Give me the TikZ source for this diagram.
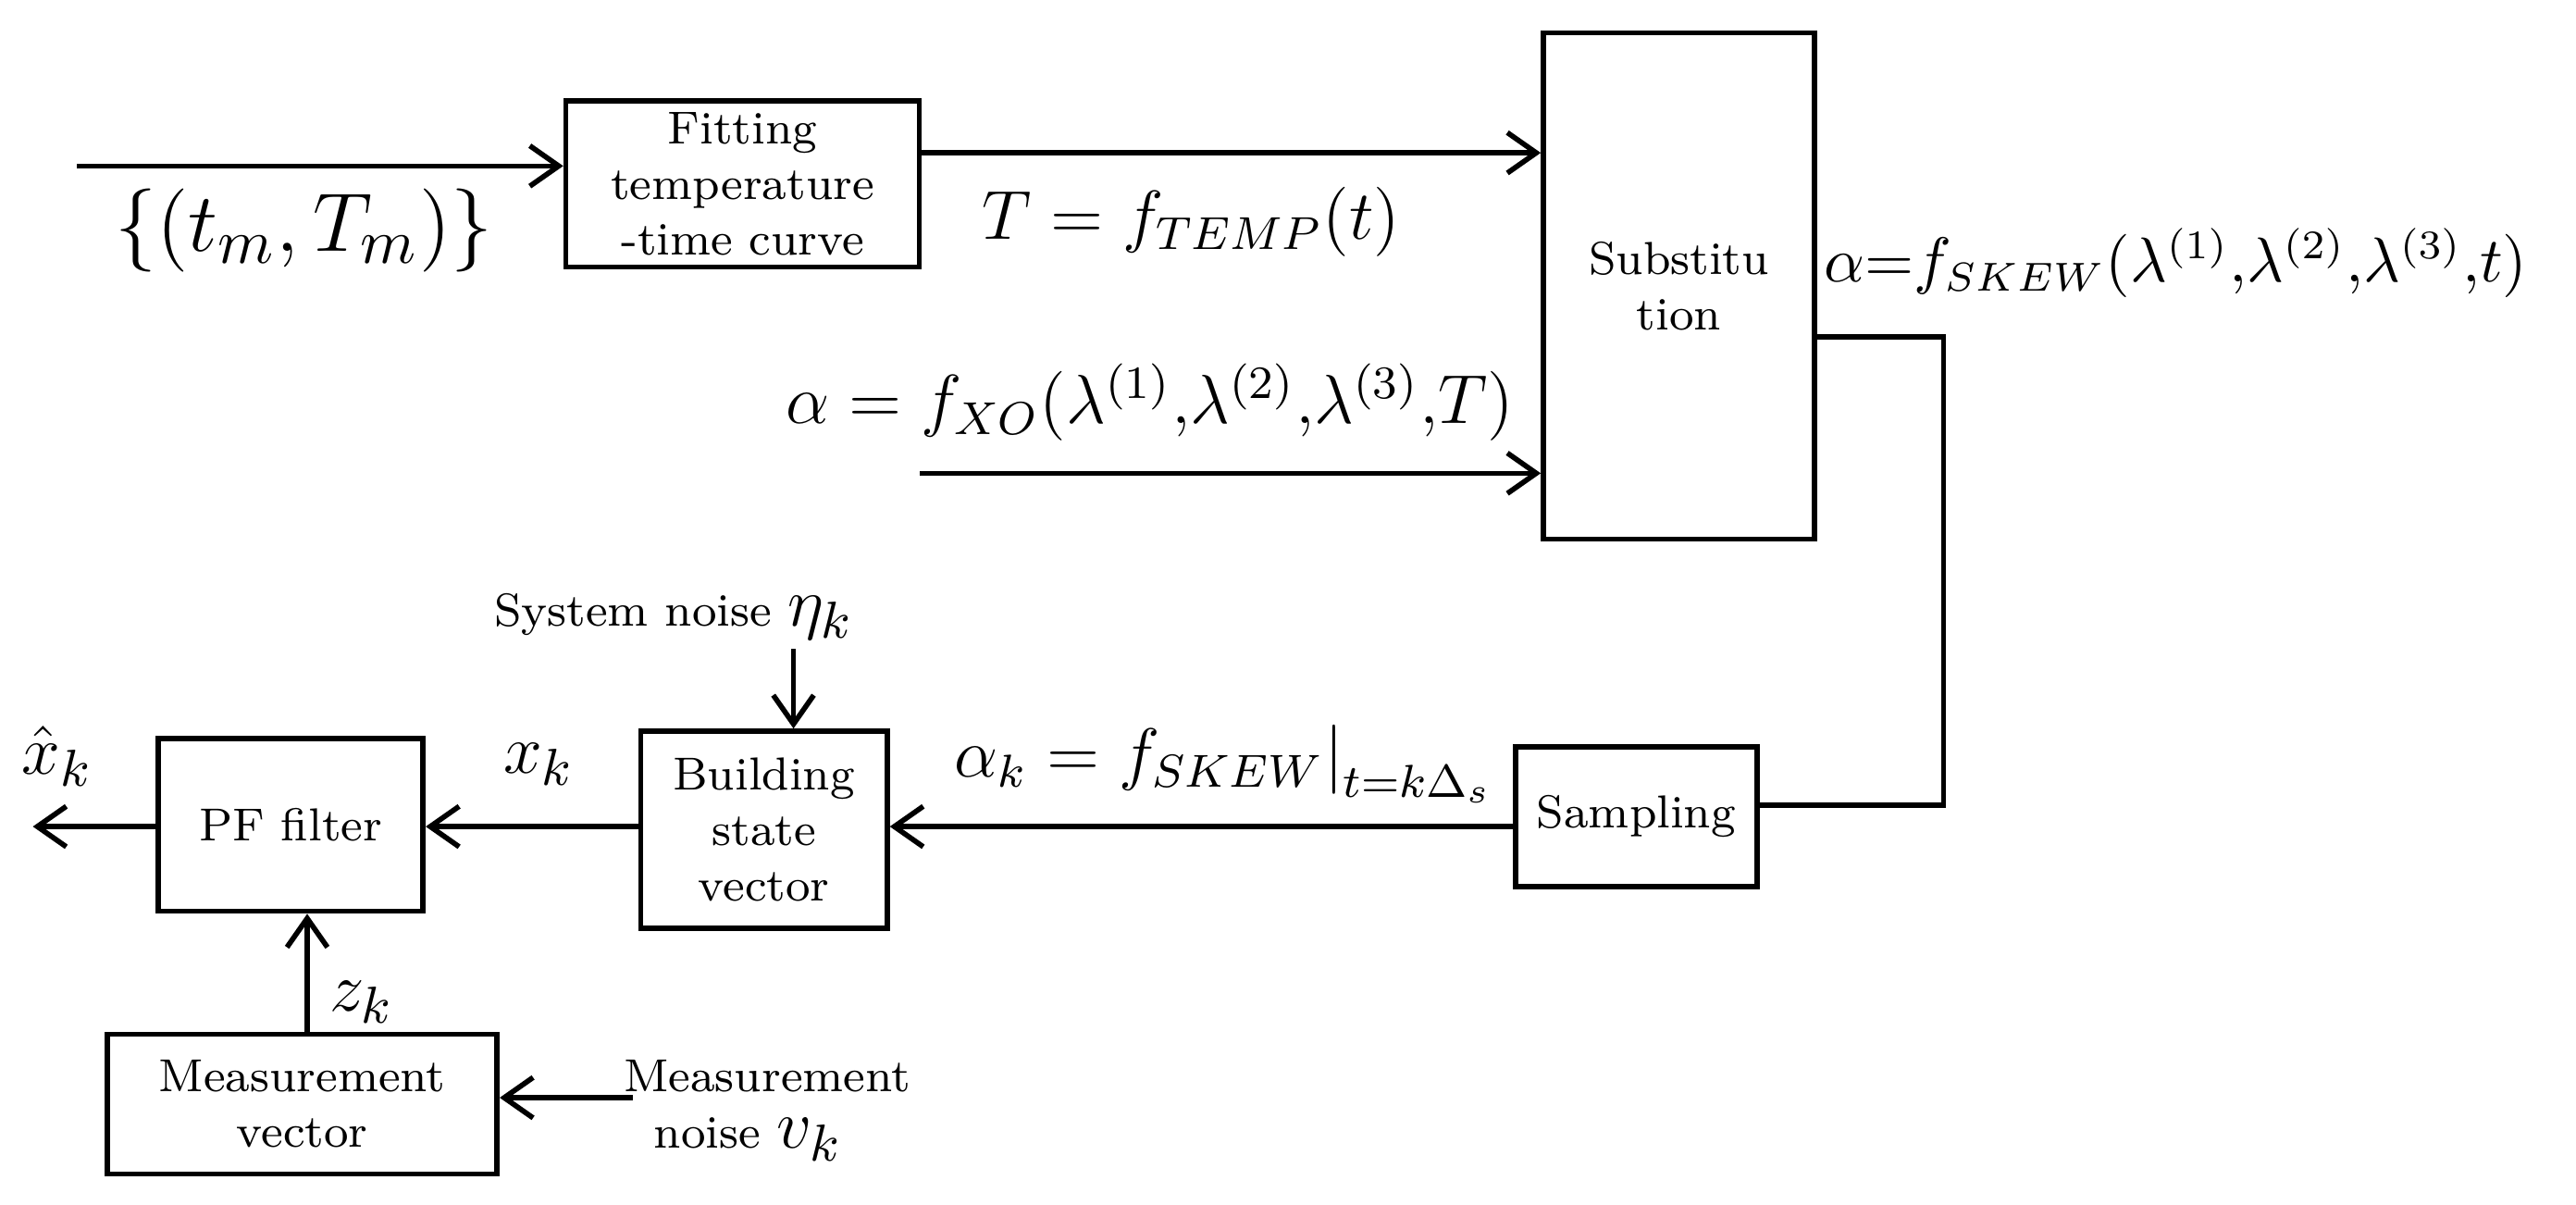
\documentclass[tikz,border=0pt]{standalone}
\usetikzlibrary{positioning,arrows.meta}

\begin{document}
\begin{tikzpicture}[
    x=0.01cm, y=-0.01cm,
    >={Straight Barb[length=5pt,width=7pt]},
    every node/.style={font=\fontsize{8}{9.6}\selectfont},
    block/.style={draw, line width=0.9pt, align=center, inner sep=0pt},
    line/.style={line width=0.9pt},
    arr/.style={->, line width=0.9pt},
    mlabel/.style={font=\fontsize{#1}{#1}\selectfont},
]
\useasboundingbox (0,0) rectangle (1568,733);

% === Blocks ===
\node[block, minimum width=2.15cm, minimum height=1.01cm] (fit) at (452,112) {Fitting\\temperature\\-time curve};
\node[block, minimum width=1.65cm, minimum height=3.08cm] (sub) at (1022,174) {Substitu\\tion};
\node[block, minimum width=1.47cm, minimum height=0.85cm] (samp) at (996,497) {Sampling};
\node[block, minimum width=1.50cm, minimum height=1.20cm] (build) at (465,505) {Building\\state\\vector};
\node[block, minimum width=1.61cm, minimum height=1.05cm] (pf) at (177,502) {PF filter};
\node[block, minimum width=2.37cm, minimum height=0.85cm] (meas) at (184,672) {Measurement\\vector};

% === Free ends ===
\coordinate (inp) at (47,101);
\coordinate (xo) at (560,288);
\coordinate (turn) at (1183,205);
\coordinate (out) at (20,503);
\coordinate (snoise) at (483,395);
\coordinate (mnoise) at (385,668);

% === Connectors ===
\draw[arr] (inp) -- (inp -| fit.west);
\draw[arr] (fit.east |- 0,93) -- (sub.west |- 0,93);
\draw[arr] (xo) -- (xo -| sub.west);
\draw[line] (sub.east |- turn) -- (turn) |- (samp.east |- 0,490);
\draw[arr] (samp.west |- 0,503) -- (build.east |- 0,503);
\draw[arr] (build.west |- 0,503) -- (pf.east |- 0,503);
\draw[arr] (pf.west |- 0,503) -- (out);
\draw[arr] (meas.north -| 187,0) -- (pf.south -| 187,0);
\draw[arr] (snoise) -- (snoise |- build.north);
\draw[arr] (mnoise) -- (mnoise -| meas.east);

% === Labels ===
\node[mlabel=15] (tm) at (185,140) {$\{(t_m,T_m)\}$};
\node[mlabel=12] (temp) at (725,135) {$T=f_{TEMP}(t)$};
\node[mlabel=12] (fxo) at (700,245) {$\alpha=f_{XO}(\lambda^{(1)}{,}\lambda^{(2)}{,}\lambda^{(3)}{,}T)$};
\node[mlabel=10.5, anchor=west, inner sep=1pt] (skew) at (1106,160) {$\alpha{=}f_{SKEW}(\lambda^{(1)}{,}\lambda^{(2)}{,}\lambda^{(3)}{,}t)$};
\node[mlabel=12] (ak) at (745,465) {$\alpha_k=f_{SKEW}\big|_{t=k\Delta_s}$};
\node[anchor=east] (sys) at (532,375) {System noise \fontsize{13}{13}\selectfont$\eta_k$};
\node[mlabel=13] (xk) at (328,465) {$x_k$};
\node[mlabel=13] (xhat) at (35,460) {$\hat{x}_k$};
\node[mlabel=13] (zk) at (220,610) {$z_k$};
\node[align=center] (mn1) at (467,655) {Measurement};
\node[anchor=north east] (mn2) at (525,668) {noise \fontsize{13}{13}\selectfont$v_k$};
\end{tikzpicture}
\end{document}
